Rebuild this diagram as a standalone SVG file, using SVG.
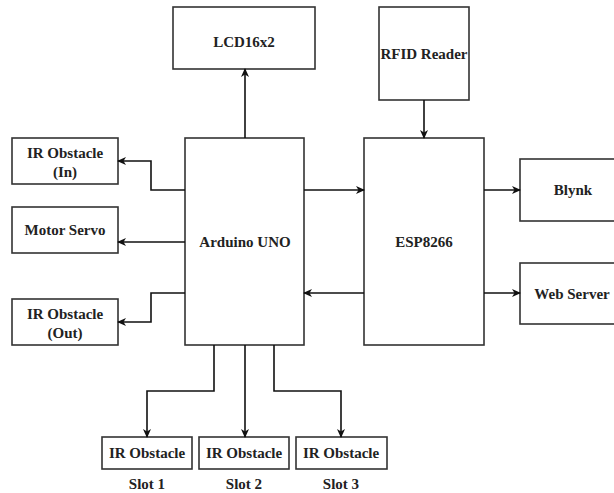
<svg xmlns="http://www.w3.org/2000/svg" width="614" height="493" viewBox="0 0 614 493">
<style>
.box{fill:#fff;stroke:#333;stroke-width:1.6}
.t{font-family:"Liberation Serif","Times New Roman",serif;font-weight:bold;font-size:15px;fill:#222;text-anchor:middle;dominant-baseline:central}
.c{fill:none;stroke:#111;stroke-width:1.6}
</style>
<defs>
<marker id="ah" markerWidth="10" markerHeight="10" refX="8" refY="5" orient="auto" markerUnits="userSpaceOnUse">
<path d="M0,1 L9,5 L0,9 L2.5,5 Z" fill="#111"/>
</marker>
</defs>
<rect width="614" height="493" fill="#fff"/>
<g id="lcd"><rect class="box" x="173" y="7" width="142" height="62"/><text class="t" x="244" y="42">LCD16x2</text></g>
<g id="rfid"><rect class="box" x="379" y="7" width="90" height="93"/><text class="t" x="424" y="54">RFID Reader</text></g>
<g id="arduino"><rect class="box" x="185" y="138" width="119" height="207"/><text class="t" x="245" y="242">Arduino UNO</text></g>
<g id="esp"><rect class="box" x="364" y="138" width="120" height="207"/><text class="t" x="424" y="242">ESP8266</text></g>
<g id="irin"><rect class="box" x="12" y="138" width="106" height="46"/><text class="t" x="65" y="153">IR Obstacle</text><text class="t" x="65" y="172">(In)</text></g>
<g id="servo"><rect class="box" x="12" y="207" width="106" height="46"/><text class="t" x="65" y="230">Motor Servo</text></g>
<g id="irout"><rect class="box" x="12" y="299" width="106" height="46"/><text class="t" x="65" y="314">IR Obstacle</text><text class="t" x="65" y="333">(Out)</text></g>
<g id="blynk"><rect class="box" x="520" y="159" width="100" height="62"/><text class="t" x="573" y="190">Blynk</text></g>
<g id="web"><rect class="box" x="520" y="263" width="100" height="61"/><text class="t" x="572" y="294">Web Server</text></g>
<g id="slot1"><rect class="box" x="102" y="437" width="90" height="32"/><text class="t" x="147" y="453">IR Obstacle</text><text class="t" x="147" y="484">Slot 1</text></g>
<g id="slot2"><rect class="box" x="199" y="437" width="90" height="32"/><text class="t" x="244" y="453">IR Obstacle</text><text class="t" x="244" y="484">Slot 2</text></g>
<g id="slot3"><rect class="box" x="296" y="437" width="91" height="32"/><text class="t" x="341" y="453">IR Obstacle</text><text class="t" x="341" y="484">Slot 3</text></g>
<g id="connectors">
<path class="c" d="M245,138 V69" marker-end="url(#ah)"/>
<path class="c" d="M424,100 V138" marker-end="url(#ah)"/>
<path class="c" d="M185,190 H151 V161 H118" marker-end="url(#ah)"/>
<path class="c" d="M185,242 H118" marker-end="url(#ah)"/>
<path class="c" d="M185,293 H151 V322 H118" marker-end="url(#ah)"/>
<path class="c" d="M304,190 H364" marker-end="url(#ah)"/>
<path class="c" d="M364,293 H304" marker-end="url(#ah)"/>
<path class="c" d="M484,190 H520" marker-end="url(#ah)"/>
<path class="c" d="M484,293 H520" marker-end="url(#ah)"/>
<path class="c" d="M214,345 V391 H147 V437" marker-end="url(#ah)"/>
<path class="c" d="M245,345 V437" marker-end="url(#ah)"/>
<path class="c" d="M274,345 V391 H341 V437" marker-end="url(#ah)"/>
</g>
</svg>
